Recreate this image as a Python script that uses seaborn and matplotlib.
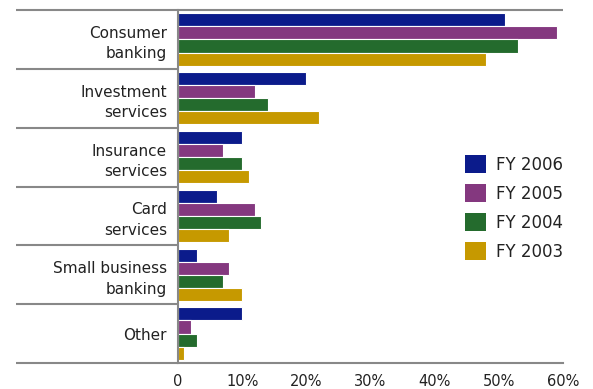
import matplotlib
matplotlib.use("Agg")
import matplotlib.pyplot as plt
import matplotlib.transforms as mtransforms
from matplotlib.patches import Patch
import seaborn as sns
import pandas as pd

categories = ["Consumer\nbanking", "Investment\nservices", "Insurance\nservices",
              "Card\nservices", "Small business\nbanking", "Other"]
years = ["FY 2006", "FY 2005", "FY 2004", "FY 2003"]
fy2006 = [51, 20, 10, 6, 3, 10]
fy2005 = [59, 12, 7, 12, 8, 2]
fy2004 = [53, 14, 10, 13, 7, 3]
fy2003 = [48, 22, 11, 8, 10, 1]
colors = ["#0b1b8b", "#84387f", "#246b2d", "#c69900"]
xticks = [0, 10, 20, 30, 40, 50, 60]
xticklabels = ["0", "10%", "20%", "30%", "40%", "50%", "60%"]

rows = []
for yr, vals in zip(years, [fy2006, fy2005, fy2004, fy2003]):
    for c, v in zip(categories, vals):
        rows.append({"category": c, "year": yr, "value": v})
df = pd.DataFrame(rows)

sns.set_style("white")
plt.rcParams["font.family"] = ["DejaVu Sans"]

fig = plt.figure(figsize=(5.93, 3.89), dpi=100)
ax = fig.add_axes([178/593, 1-363/389, (563-178)/593, (363-10)/389])

sns.barplot(data=df, y="category", x="value", hue="year", order=categories,
            hue_order=years, palette=colors, orient="h", width=0.89,
            saturation=1, ax=ax, legend=False, edgecolor="white", linewidth=0.8)

ax.set_xlim(0, 60)
ax.set_ylim(len(categories) - 0.5, -0.5)
ax.set_xlabel("")
ax.set_ylabel("")
ax.set_xticks(xticks)
ax.set_xticklabels(xticklabels, fontsize=10.5, color="#222222")
ax.tick_params(axis="x", direction="out", length=5, width=1.2, color="#777777", pad=3)
ax.tick_params(axis="y", length=0, pad=8, labelsize=11, labelcolor="#222222")
for lbl in ax.get_yticklabels():
    lbl.set_horizontalalignment("right")
    lbl.set_linespacing(1.45)

for s in ["top", "right"]:
    ax.spines[s].set_visible(False)
for s in ["left", "bottom"]:
    ax.spines[s].set_color("#888888")
    ax.spines[s].set_linewidth(1.5)

trans = mtransforms.blended_transform_factory(ax.transAxes, ax.transData)
left_ext = (16 - 178) / (563 - 178)
n = len(categories)
for i in range(n + 1):
    y = i - 0.5
    x_end = 1.0 if i == 0 else 0.0
    ax.plot([left_ext, x_end], [y, y], transform=trans, color="#888888",
            lw=1.5, clip_on=False, solid_capstyle="butt")

handles = [Patch(facecolor=c, edgecolor="none") for c in colors]
ax.legend(handles, years, loc="center left", bbox_to_anchor=(0.745, 0.44),
          frameon=False, fontsize=12, handlelength=1.3, handleheight=1.3,
          labelspacing=0.62, handletextpad=0.55, borderpad=0, borderaxespad=0,
          labelcolor="#222222")

fig.savefig("out.png", dpi=100)
